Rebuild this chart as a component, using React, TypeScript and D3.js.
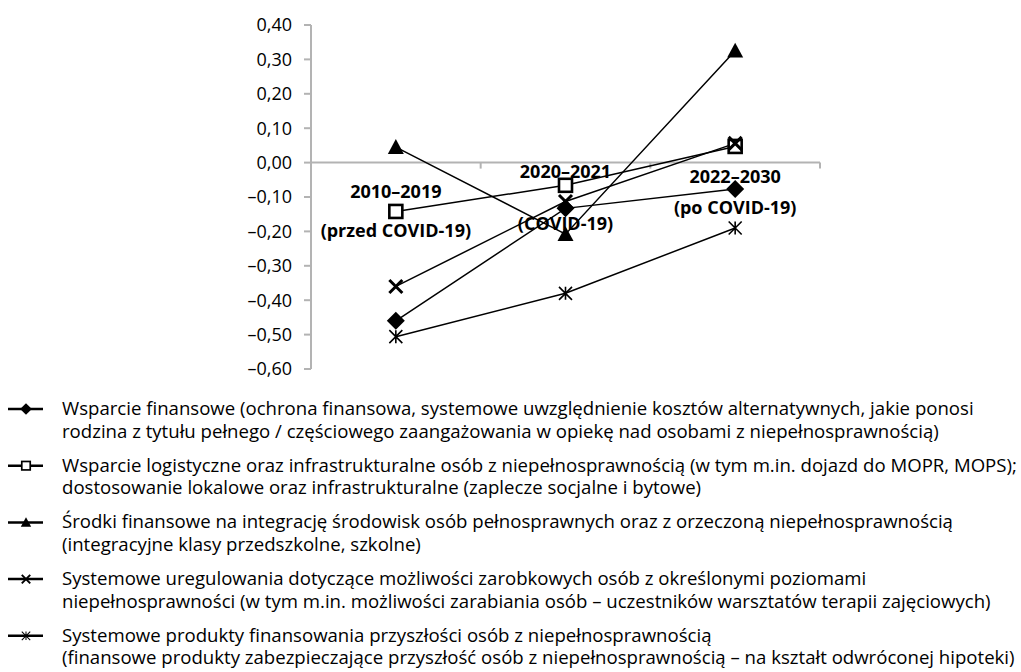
import * as d3 from 'd3';
import React from 'react';

const categories = ['2010–2019', '2020–2021', '2022–2030'];
const categorySubtitles = ['(przed COVID-19)', '(COVID-19)', '(po COVID-19)'];

const wsparcieFinansowe = [-0.46, -0.133, -0.077];
const wsparcieLogistyczne = [-0.142, -0.066, 0.047];
const srodkiIntegracja = [0.045, -0.208, 0.325];
const uregulowaniaZarobkowe = [-0.36, -0.113, 0.056];
const produktyFinansowania = [-0.506, -0.38, -0.19];

const yTicks = [0.4, 0.3, 0.2, 0.1, 0, -0.1, -0.2, -0.3, -0.4, -0.5, -0.6];

const legendLabels = [
  ['Wsparcie finansowe (ochrona finansowa, systemowe uwzględnienie kosztów alternatywnych, jakie ponosi',
    'rodzina z tytułu pełnego / częściowego zaangażowania w opiekę nad osobami z niepełnosprawnością)'],
  ['Wsparcie logistyczne oraz infrastrukturalne osób z niepełnosprawnością (w tym m.in. dojazd do MOPR, MOPS);',
    'dostosowanie lokalowe oraz infrastrukturalne (zaplecze socjalne i bytowe)'],
  ['Środki finansowe na integrację środowisk osób pełnosprawnych oraz z orzeczoną niepełnosprawnością',
    '(integracyjne klasy przedszkolne, szkolne)'],
  ['Systemowe uregulowania dotyczące możliwości zarobkowych osób z określonymi poziomami',
    'niepełnosprawności (w tym m.in. możliwości zarabiania osób – uczestników warsztatów terapii zajęciowych)'],
  ['Systemowe produkty finansowania przyszłości osób z niepełnosprawnością',
    '(finansowe produkty zabezpieczające przyszłość osób z niepełnosprawnością – na kształt odwróconej hipoteki)'],
];

const series = [
  { values: wsparcieFinansowe, marker: 'diamond' },
  { values: wsparcieLogistyczne, marker: 'square' },
  { values: srodkiIntegracja, marker: 'triangle' },
  { values: uregulowaniaZarobkowe, marker: 'x' },
  { values: produktyFinansowania, marker: 'star' },
];

// label line offsets (px below the zero line), as placed in the original
const labelOffsets = [[29, 68], [9, 61], [14, 45]];

const W = 1021;
const H = 672;
const FONT = '"Open Sans", sans-serif';
const AXIS = '#b3b3b3';

const fmt = (v: number) => {
  const s = Math.abs(v).toFixed(2).replace('.', ',');
  return v < -1e-9 ? '–' + s : s;
};

function Marker({ type, x, y, s = 1 }: { type: string; x: number; y: number; s?: number }) {
  if (type === 'diamond') {
    const r = 9 * s;
    return <path d={`M${x},${y - r}L${x + r},${y}L${x},${y + r}L${x - r},${y}Z`} fill="#000" />;
  }
  if (type === 'square') {
    const r = 6.5 * s;
    return <rect x={x - r} y={y - r} width={2 * r} height={2 * r} fill="#fff" stroke="#000" strokeWidth={2.6 * s} />;
  }
  if (type === 'triangle') {
    const r = 8 * s;
    return <path d={`M${x},${y - r}L${x + r},${y + r * 0.85}L${x - r},${y + r * 0.85}Z`} fill="#000" />;
  }
  if (type === 'x') {
    const r = 6.5 * s;
    return <path d={`M${x - r},${y - r}L${x + r},${y + r}M${x - r},${y + r}L${x + r},${y - r}`} stroke="#000" strokeWidth={3 * s} />;
  }
  const r = 6.5 * s;
  return (
    <path
      d={`M${x - r},${y - r}L${x + r},${y + r}M${x - r},${y + r}L${x + r},${y - r}M${x},${y - r}L${x},${y + r}`}
      stroke="#000"
      strokeWidth={1.6 * s}
    />
  );
}

export default function App() {
  const x = d3.scaleBand<string>().domain(categories).range([311, 820]).padding(0);
  const y = d3.scaleLinear().domain([-0.6, 0.4]).range([369, 25]);
  const cx = (c: string) => (x(c) ?? 0) + x.bandwidth() / 2;
  const line = d3
    .line<number>()
    .x((_, i) => cx(categories[i]))
    .y((d) => y(d));
  const y0 = y(0);

  const legendBase = 415;
  const legendStep = 56.7;
  const lineGap = 22.5;

  return (
    <div style={{ position: 'absolute', left: 0, top: 0 }}>
      <svg width={W} height={H} style={{ display: 'block', background: '#fff' }} fontFamily={FONT}>
        {/* y axis */}
        <line x1={311} x2={311} y1={y(0.4)} y2={y(-0.6)} stroke={AXIS} strokeWidth={2} />
        {yTicks.map((t) => (
          <g key={t}>
            <line x1={304} x2={311} y1={y(t)} y2={y(t)} stroke={AXIS} strokeWidth={2} />
            <text x={292} y={y(t)} dy="0.36em" textAnchor="end" fontSize={18} fill="#000">
              {fmt(t)}
            </text>
          </g>
        ))}
        {/* x axis at zero */}
        <line x1={311} x2={820} y1={y0} y2={y0} stroke={AXIS} strokeWidth={2} />
        {categories.map((c) => (
          <line key={c} x1={(x(c) ?? 0) + x.bandwidth()} x2={(x(c) ?? 0) + x.bandwidth()} y1={y0} y2={y0 + 6} stroke={AXIS} strokeWidth={2} />
        ))}
        {/* category labels */}
        {categories.map((c, i) => (
          <g key={c} fontWeight="bold" fontSize={18} textAnchor="middle" fill="#000">
            <text x={cx(c)} y={y0 + labelOffsets[i][0]} dy="0.36em">{c}</text>
            <text x={cx(c)} y={y0 + labelOffsets[i][1]} dy="0.36em">{categorySubtitles[i]}</text>
          </g>
        ))}
        {/* series lines */}
        {series.map((s, i) => (
          <path key={'l' + i} d={line(s.values) ?? ''} fill="none" stroke="#000" strokeWidth={1.5} />
        ))}
        {/* markers */}
        {series.map((s, i) => (
          <g key={'m' + i}>
            {s.values.map((v, j) => (
              <Marker key={j} type={s.marker} x={cx(categories[j])} y={y(v)} />
            ))}
          </g>
        ))}
        {/* legend */}
        {series.map((s, i) => {
          const base = legendBase + i * legendStep;
          const ly = base - 6;
          return (
            <g key={'lg' + i}>
              <line x1={8} x2={43} y1={ly} y2={ly} stroke="#000" strokeWidth={2.5} />
              <Marker type={s.marker} x={26} y={ly} s={0.65} />
              {legendLabels[i].map((t, k) => (
                <text key={k} x={62} y={base + k * lineGap} fontSize={18.6} fill="#000">
                  {t}
                </text>
              ))}
            </g>
          );
        })}
      </svg>
    </div>
  );
}
